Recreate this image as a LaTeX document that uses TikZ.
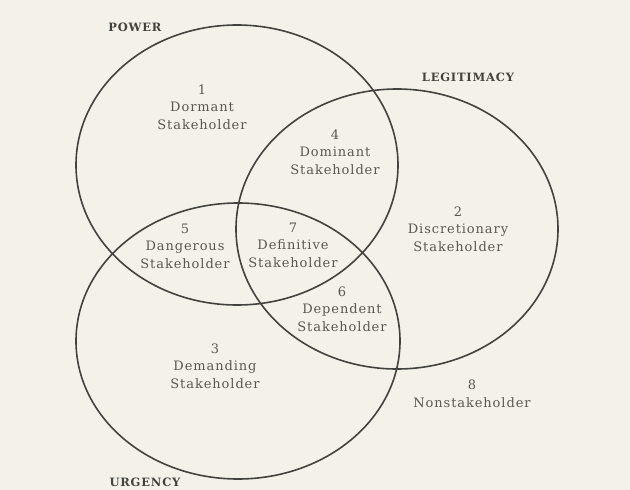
\documentclass[tikz,border=0pt]{standalone}
\usepackage{fontspec}
\newfontfamily\slabfont[LetterSpace=7]{DejaVu Serif}
\usepackage{tikz}
\definecolor{paper}{RGB}{244,242,232}
\definecolor{ink}{RGB}{66,66,62}
\definecolor{txt}{RGB}{88,88,82}

\begin{document}
\begin{tikzpicture}[x=1pt,y=-1pt,
  ring/.style={draw=ink, line width=1.6pt},
  region/.style={align=center, text=txt, inner sep=0pt,
    font=\slabfont\fontsize{13}{17.5}\selectfont},
  setname/.style={text=ink, inner sep=0pt,
    font=\slabfont\bfseries\fontsize{11.5}{12}\selectfont}]
\fill[color=paper](0,0) rectangle (630,490);
\useasboundingbox (0,0) rectangle (630,490);

% the three attributes
\draw[ring] (237,165) ellipse [x radius=161pt, y radius=140pt];
\draw[ring] (397,229) ellipse [x radius=161pt, y radius=140pt];
\draw[ring] (238,341) ellipse [x radius=162pt, y radius=138pt];

\node[setname] (power) at (135,27) {POWER};
\node[setname] (legitimacy) at (468,77) {LEGITIMACY};
\node[setname] (urgency) at (145,482) {URGENCY};

% stakeholder classes
\node[region] (dormant) at (202,107) {1\\Dormant\\Stakeholder};
\node[region] (discretionary) at (458,229) {2\\Discretionary\\Stakeholder};
\node[region] (demanding) at (215,366) {3\\Demanding\\Stakeholder};
\node[region] (dominant) at (335,152) {4\\Dominant\\Stakeholder};
\node[region] (dangerous) at (185,246) {5\\Dangerous\\Stakeholder};
\node[region] (dependent) at (342,309) {6\\Dependent\\Stakeholder};
\node[region] (definitive) at (293,245) {7\\Definitive\\Stakeholder};
\node[region] (nonstake) at (472,394) {8\\Nonstakeholder};
\end{tikzpicture}
\end{document}
